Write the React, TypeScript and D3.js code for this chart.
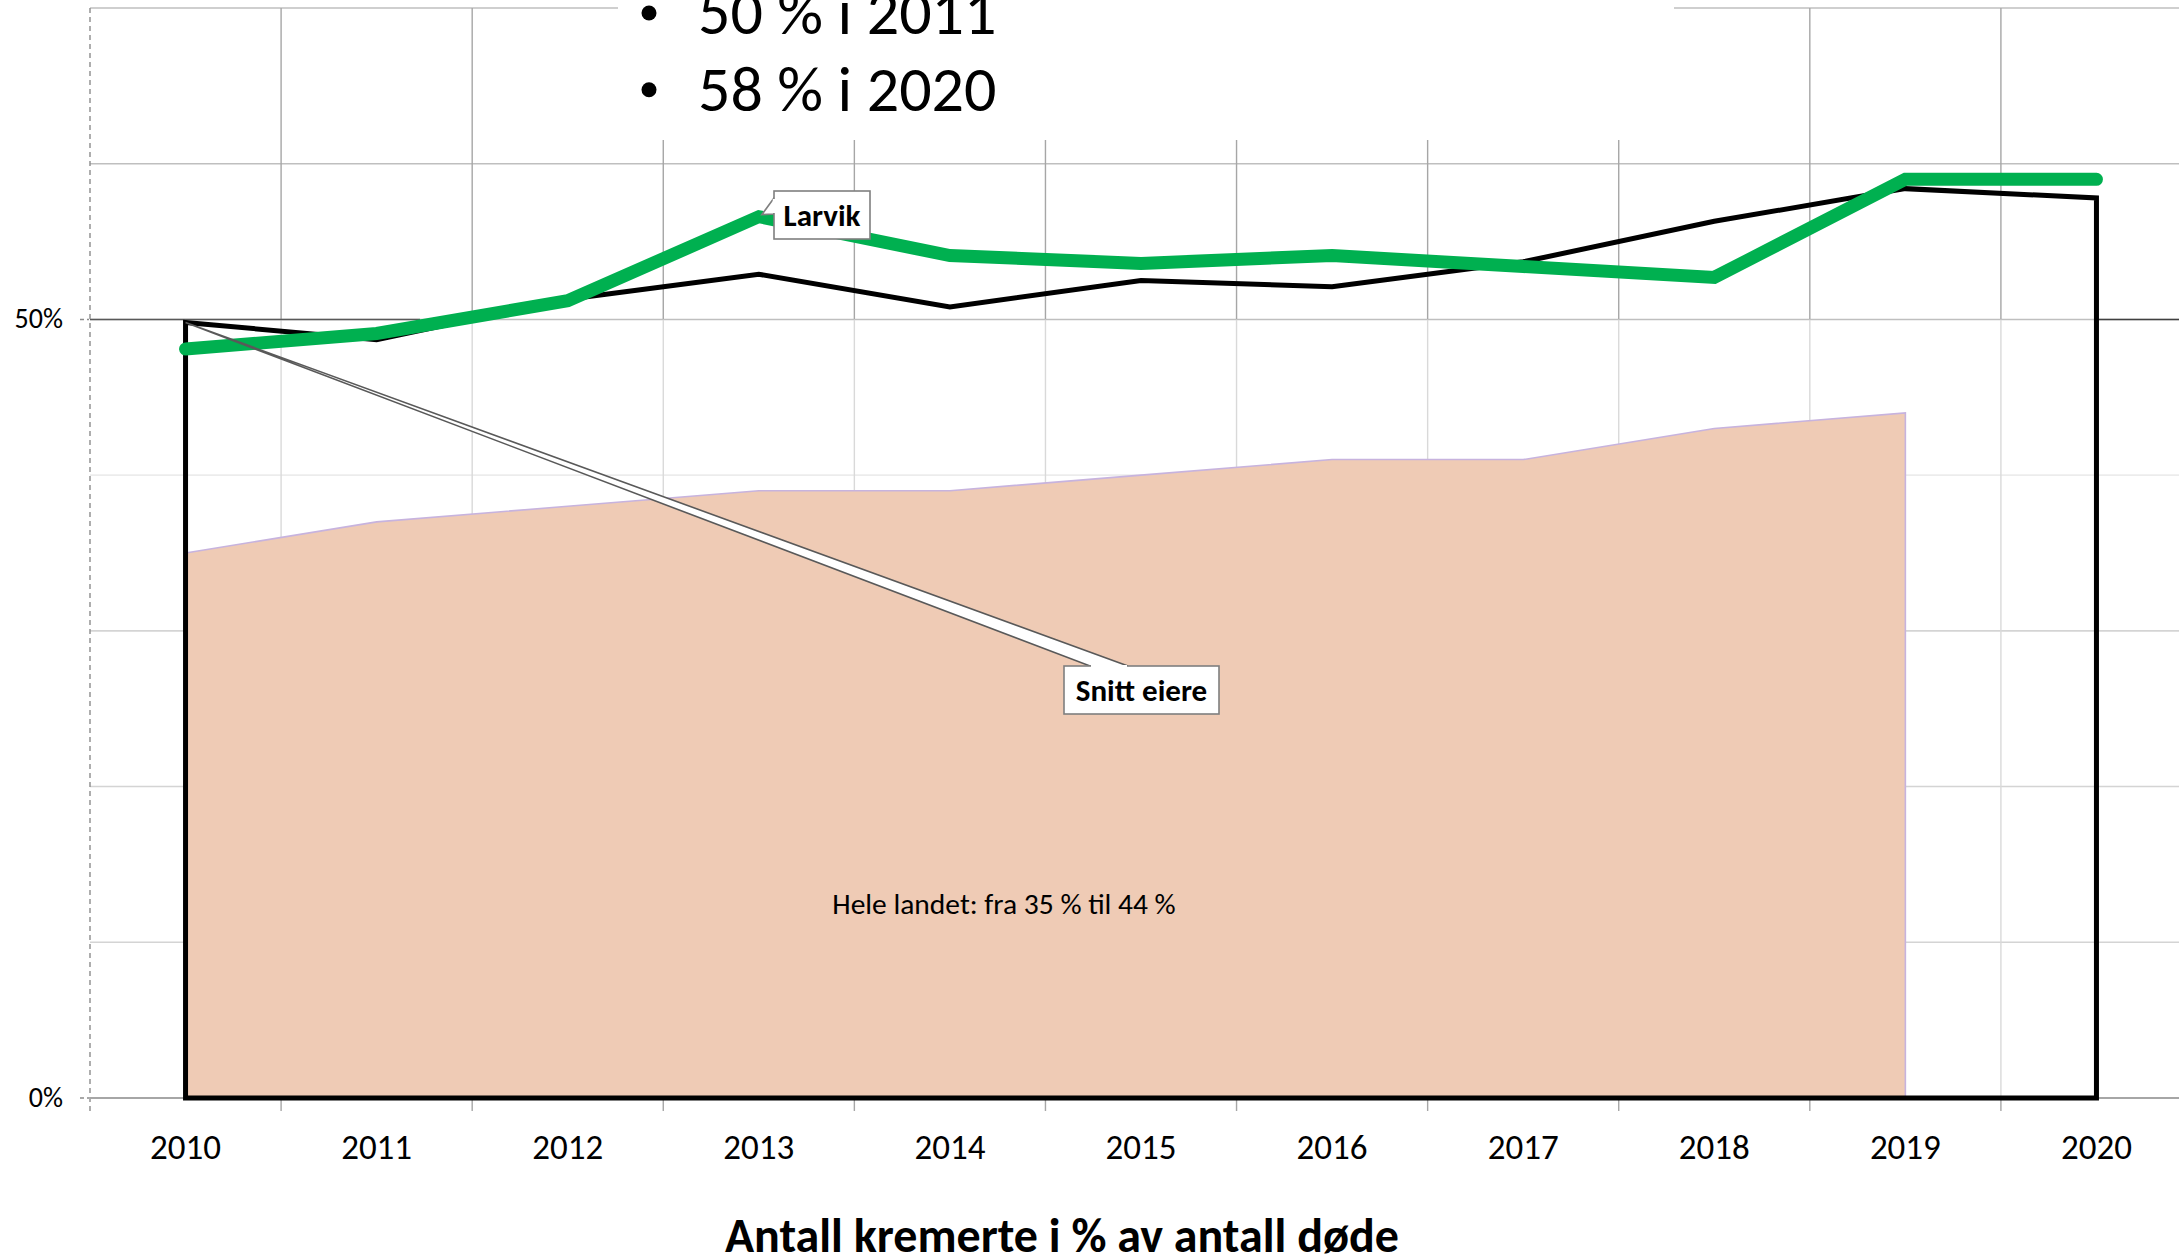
import React from "react";
import * as d3 from "d3";

const years = ["2010", "2011", "2012", "2013", "2014", "2015", "2016", "2017", "2018", "2019", "2020"];
// Snitt eiere (black outlined area), Larvik (green line), Hele landet (filled area, to 2019)
const snittEiere = [49.8, 48.7, 51.3, 52.9, 50.8, 52.5, 52.1, 53.7, 56.3, 58.4, 57.8];
const larvik = [48.1, 49.1, 51.2, 56.6, 54.1, 53.6, 54.1, 53.4, 52.7, 59.0, 59.0];
const heleLandet = [35, 37, 38, 39, 39, 40, 41, 41, 43, 44];
const gridTicks = [0, 10, 20, 30, 40, 50, 60, 70];
const labelTicks = [0, 50];
const bullets = ["50 % i 2011", "58 % i 2020"];

const W = 2179;
const H = 1260;
const FONT = "Carlito, Calibri, Lato, sans-serif";

export default function App() {
  const x = d3.scaleBand().domain(years).range([90, 2192]).padding(0);
  const y = d3.scaleLinear().domain([0, 70]).range([1098, 8]);
  const cx = (yr: string) => (x(yr) || 0) + x.bandwidth() / 2;

  const boundaries = years.slice(1).map((yr) => x(yr) || 0);

  const area = d3
    .area<number>()
    .x((_, i) => cx(years[i]))
    .y0(y(0))
    .y1((d) => y(d));
  const line = d3
    .line<number>()
    .x((_, i) => cx(years[i]))
    .y((d) => y(d));

  const snittPath =
    `M${cx(years[0])},${y(0)}` +
    snittEiere.map((d, i) => `L${cx(years[i])},${y(d)}`).join("") +
    `L${cx(years[years.length - 1])},${y(0)}Z`;

  const larvikX = cx("2013");
  const larvikY = y(larvik[3]);
  const snittX = cx("2010");
  const snittY = y(snittEiere[0]);

  return (
    <svg width={W} height={H} style={{ position: "absolute", left: 0, top: 0, background: "#fff" }} fontFamily={FONT}>
      {/* horizontal gridlines */}
      {gridTicks.slice(1).map((t) => (
        <line
          key={"h" + t}
          x1={90}
          x2={W}
          y1={y(t)}
          y2={y(t)}
          stroke={t >= 50 ? "#bfbfbf" : t === 40 ? "#ececec" : "#d4d4d4"}
          strokeWidth={1.6}
        />
      ))}
      {/* vertical gridlines, darker above 50% */}
      {boundaries.map((b, i) => (
        <g key={"v" + i}>
          <line x1={b} x2={b} y1={y(70)} y2={y(50)} stroke="#a6a6a6" strokeWidth={1.4} />
          <line x1={b} x2={b} y1={y(50)} y2={y(0)} stroke="#d9d9d9" strokeWidth={1.4} />
          <line x1={b} x2={b} y1={y(0)} y2={y(0) + 13} stroke="#a6a6a6" strokeWidth={1.4} />
        </g>
      ))}
      {/* darker 50% segments */}
      <line x1={90} x2={420} y1={y(50)} y2={y(50)} stroke="#595959" strokeWidth={1.6} />
      <line x1={cx("2020")} x2={W} y1={y(50)} y2={y(50)} stroke="#404040" strokeWidth={1.6} />

      {/* y axis */}
      <line x1={90} x2={90} y1={y(70)} y2={y(0) + 14} stroke="#8c8c8c" strokeWidth={1.4} strokeDasharray="5,4" />
      {labelTicks.map((t) => (
        <g key={"yl" + t}>
          <line x1={80} x2={89} y1={y(t)} y2={y(t)} stroke="#8c8c8c" strokeWidth={1.4} strokeDasharray="4,3" />
          <text x={63} y={y(t) + 9} textAnchor="end" fontSize={28} fill="#000">
            {t}%
          </text>
        </g>
      ))}
      {/* x axis */}
      <line x1={90} x2={W} y1={y(0)} y2={y(0)} stroke="#a6a6a6" strokeWidth={2} />

      {/* Hele landet */}
      <path d={area(heleLandet) || ""} fill="#EFCBB5" stroke="#C7B3DE" strokeWidth={1.6} />

      {/* Snitt eiere */}
      <path d={snittPath} fill="none" stroke="#000" strokeWidth={5} strokeLinejoin="miter" />

      {/* Larvik */}
      <path d={line(larvik) || ""} fill="none" stroke="#00B050" strokeWidth={13} strokeLinecap="round" strokeLinejoin="miter" />

      {/* Snitt eiere callout */}
      <path
        d={`M${snittX},${snittY} L1090,666 L1128,666 Z`}
        fill="#fff"
        stroke="#595959"
        strokeWidth={1.6}
        strokeLinejoin="miter"
      />
      <rect x={1064} y={666} width={155} height={48} fill="#fff" stroke="#7f7f7f" strokeWidth={1.6} />
      <line x1={1091} x2={1127} y1={666} y2={666} stroke="#fff" strokeWidth={2} />
      <text x={1141.5} y={701} textAnchor="middle" fontSize={31} fontWeight="bold" fill="#000">
        Snitt eiere
      </text>

      {/* Larvik callout */}
      <path
        d={`M774,198 L${larvikX + 3},${larvikY - 2} L774,214 Z`}
        fill="#fff"
        stroke="#7f7f7f"
        strokeWidth={1.6}
      />
      <rect x={774} y={191} width={96} height={48} fill="#fff" stroke="#7f7f7f" strokeWidth={1.6} />
      <line x1={774} x2={774} y1={199} y2={213} stroke="#fff" strokeWidth={2.5} />
      <text x={822} y={226} textAnchor="middle" fontSize={31} fontWeight="bold" fill="#000">
        Larvik
      </text>

      {/* area annotation */}
      <text x={1004} y={914} textAnchor="middle" fontSize={29.5} fill="#000">
        Hele landet: fra 35 % til 44 %
      </text>

      {/* x labels */}
      {years.map((yr) => (
        <text key={yr} x={cx(yr)} y={1159} textAnchor="middle" fontSize={35} fill="#000">
          {yr}
        </text>
      ))}

      {/* overlay text box */}
      <rect x={618} y={0} width={1056} height={140} fill="#fff" />
      {bullets.map((b, i) => (
        <g key={b}>
          <circle cx={649} cy={13 + i * 76.7} r={7.5} fill="#000" />
          <text x={698} y={34 + i * 76.7} fontSize={64} fill="#000">
            {b}
          </text>
        </g>
      ))}

      {/* title */}
      <text x={1062} y={1252} textAnchor="middle" fontSize={48} fontWeight="bold" fill="#000">
        Antall kremerte i % av antall døde
      </text>
    </svg>
  );
}
